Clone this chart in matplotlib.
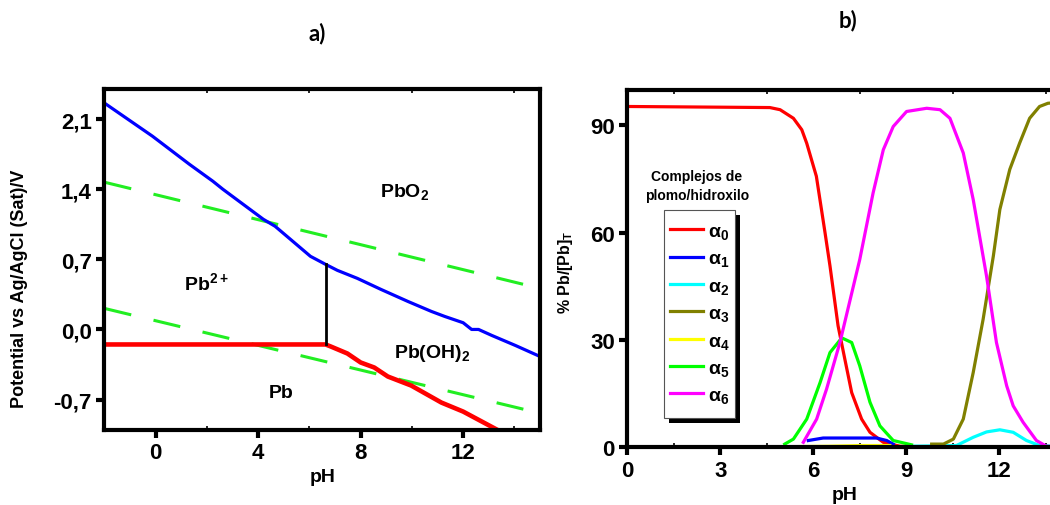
import numpy as np
import matplotlib
matplotlib.use('Agg')
from matplotlib import pyplot as plt
from matplotlib.patches import Rectangle
from matplotlib.transforms import IdentityTransform
from matplotlib.ticker import MultipleLocator, FixedLocator

plt.rcParams['font.family'] = ['Liberation Sans', 'DejaVu Sans']
plt.rcParams['font.weight'] = 'bold'
plt.rcParams['mathtext.default'] = 'regular'

##==============================================================================
## a) Pourbaix diagram of Pb (potential vs Ag/AgCl (Sat))
##==============================================================================
pbo2_ph = [-2.0, -0.13, 1.31, 2.23, 2.62, 4.2, 4.66, 5.12, 6.04, 6.63, 7.09,
           7.87, 8.79, 9.84, 10.76, 11.28, 12.0, 12.33, 12.6, 13.12, 14.04, 15.0]
pbo2_E = [2.26, 1.93, 1.65, 1.48, 1.40, 1.10, 1.03, 0.93, 0.73, 0.65, 0.59,
          0.51, 0.40, 0.28, 0.18, 0.13, 0.067, 0.0, 0.0, -0.06, -0.16, -0.27]

pb_ph = [-2.0, 6.63, 6.83, 7.48, 8.0, 8.53, 9.06, 9.97, 11.15, 12.0, 13.39]
pb_E = [-0.15, -0.15, -0.17, -0.24, -0.33, -0.38, -0.47, -0.56, -0.73, -0.82, -1.01]

# Pb2+ / Pb(OH)2 boundary
hyd_ph = [6.63, 6.63]
hyd_E = [-0.15, 0.65]

# water stability limits
o2_ph = [-2.0, 15.0]
o2_E = [1.47, 0.41]
h2_ph = [-2.0, 14.9]
h2_E = [0.21, -0.83]

pourbaix_ticks = [-0.7, 0.0, 0.7, 1.4, 2.1]
pourbaix_ticklabels = ['-0,7', '0,0', '0,7', '1,4', '2,1']

##==============================================================================
## b) Speciation of lead / hydroxo complexes
##==============================================================================
a0_ph = [0, 4.6, 4.93, 5.36, 5.63, 5.79, 6.1, 6.38, 6.54, 6.8, 7.02, 7.24,
         7.56, 7.83, 8.26, 8.8, 9.5, 14.0]
a0 = [95.3, 95.0, 94.4, 92.0, 88.8, 85.0, 75.8, 60.0, 50.7, 34.0, 24.6, 15.3,
      7.9, 4.2, 1.4, 0.3, 0.1, 0.1]
a1_ph = [5.84, 6.32, 7.0, 8.04, 8.37, 8.58]
a1 = [1.9, 2.6, 2.6, 2.6, 1.9, 0.9]
a2_ph = [9.12, 10.0, 10.62, 11.16, 11.59, 12.02, 12.45, 12.88, 13.3, 14.0]
a2 = [0.3, 0.4, 0.5, 2.8, 4.3, 4.9, 4.2, 1.9, 0.5, 0.2]
a3_ph = [9.82, 10.2, 10.52, 10.84, 11.16, 11.48, 11.81, 12.02, 12.34, 12.66,
         12.98, 13.3, 13.57, 14.0]
a3 = [0.9, 0.9, 2.3, 7.9, 20.9, 35.8, 53.5, 66.5, 77.7, 85.1, 92.0, 95.3,
      96.2, 96.5]
a4_ph = [5.46, 6.5, 7.5, 8.47]
a4 = [0.2, 0.3, 0.5, 0.5]
a5_ph = [5.08, 5.36, 5.79, 6.22, 6.54, 6.92, 7.24, 7.5, 7.83, 8.15, 8.58, 9.17]
a5 = [0.9, 2.3, 7.9, 18.1, 26.5, 30.6, 29.3, 22.8, 12.6, 6.0, 1.9, 0.7]
a6_ph = [5.68, 6.11, 6.43, 6.86, 7.5, 7.93, 8.26, 8.58, 9.01, 9.66, 10.09,
         10.41, 10.84, 11.16, 11.59, 11.91, 12.24, 12.45, 12.77, 13.2, 13.52, 14.0]
a6 = [1.4, 7.9, 16.3, 29.3, 52.5, 71.1, 83.2, 89.7, 93.9, 94.8, 94.4,
      92.0, 82.3, 69.3, 47.9, 29.3, 17.2, 11.6, 7.0, 1.9, 0.3, 0.1]

species = [(a0_ph, a0, '#ff0000'), (a1_ph, a1, '#0000ff'),
           (a2_ph, a2, '#00ffff'), (a3_ph, a3, '#808000'),
           (a4_ph, a4, '#ffff00'), (a5_ph, a5, '#00ff00'),
           (a6_ph, a6, '#ff00ff')]
species_labels = [r'$\alpha_{%d}$' % n for n in range(7)]


def style_axes(ax, tick_size):
    for sp in ax.spines.values():
        sp.set_linewidth(3.0)
    ax.tick_params(which='major', direction='out', length=6, width=3,
                   labelsize=tick_size, pad=3)
    ax.tick_params(which='minor', direction='in', length=3, width=1.2,
                   top=True, bottom=True, left=False)
    ax.tick_params(axis='x', which='major', top=False)
    for lab in ax.get_xticklabels() + ax.get_yticklabels():
        lab.set_fontweight('bold')


fig = plt.figure(figsize=(10.5, 5.06), dpi=100)

## ---- panel a ----
ax1 = fig.add_axes([0.0995, 0.149, 0.4148, 0.673])
ax1.plot(o2_ph, o2_E, color='#22ee22', lw=2.2, dashes=(9, 7.5))
ax1.plot(h2_ph, h2_E, color='#22ee22', lw=2.2, dashes=(9, 7.5))
ax1.plot(pbo2_ph, pbo2_E, color='#0000ff', lw=2.3)
ax1.plot(pb_ph, pb_E, color='#ff0000', lw=3.3)
ax1.plot(hyd_ph, hyd_E, color='black', lw=2.0)

ax1.text(9.7, 1.38, r'PbO$_2$', fontsize=14, fontweight='bold', ha='center', va='center')
ax1.text(2.0, 0.47, r'Pb$^{2+}$', fontsize=14, fontweight='bold', ha='center', va='center')
ax1.text(10.8, -0.23, r'Pb(OH)$_2$', fontsize=14, fontweight='bold', ha='center', va='center')
ax1.text(4.9, -0.63, 'Pb', fontsize=14, fontweight='bold', ha='center', va='center')

ax1.set_xlim(-2, 15)
ax1.set_ylim(-1.0, 2.4)
ax1.xaxis.set_major_locator(MultipleLocator(4))
ax1.xaxis.set_minor_locator(FixedLocator([2, 6, 10, 14]))
ax1.set_yticks(pourbaix_ticks)
ax1.set_yticklabels(pourbaix_ticklabels)
style_axes(ax1, 16)
ax1.set_xlabel('pH', fontsize=14, fontweight='bold')
ax1.xaxis.set_label_coords(0.5, -0.113)
ax1.set_ylabel('Potential vs Ag/AgCl (Sat)/V', fontsize=13, fontweight='bold')
ax1.yaxis.set_label_coords(-0.176, 0.416)

## ---- panel b ----
ax2 = fig.add_axes([0.5974, 0.114, 0.4133, 0.7068])
handles = []
for (ph, val, col), lab in zip(species, species_labels):
    ln, = ax2.plot(ph, val, color=col, lw=2.3, clip_on=False, label=lab)
    handles.append(ln)

ax2.set_xlim(0, 14)
ax2.set_ylim(0, 100)
ax2.xaxis.set_major_locator(MultipleLocator(3))
ax2.xaxis.set_minor_locator(MultipleLocator(1.5))
ax2.yaxis.set_major_locator(MultipleLocator(30))
style_axes(ax2, 16)
ax2.set_xlabel('pH', fontsize=14, fontweight='bold')
ax2.xaxis.set_label_coords(0.5, -0.108)
ax2.set_ylabel(r'% Pb/[Pb]$_T$', fontsize=11.5, fontweight='bold')
ax2.yaxis.set_label_coords(-0.12, 0.493)

leg = ax2.legend(handles=handles, loc='upper left', bbox_to_anchor=(0.085, 0.645),
                 borderaxespad=0, fontsize=14, handlelength=1.7, handletextpad=0.25,
                 labelspacing=0.45, borderpad=0.3, fancybox=False, framealpha=1)
leg.get_frame().set_visible(False)
ax2.text(0.16, 0.733, 'Complejos de\nplomo/hidroxilo', transform=ax2.transAxes,
         fontsize=10, fontweight='bold', ha='center', va='center', linespacing=1.45)

# legend box with extra vertical room and a black drop shadow
fig.canvas.draw()
bb = leg.get_window_extent()
pad = 7
box_x0, box_y0 = bb.x0, bb.y0 - pad
box_w, box_h = bb.width, bb.height + 2 * pad
shadow = Rectangle((box_x0 + 5, box_y0 - 5), box_w, box_h,
                   transform=IdentityTransform(), facecolor='black',
                   edgecolor='none', zorder=4)
frame = Rectangle((box_x0, box_y0), box_w, box_h,
                  transform=IdentityTransform(), facecolor='white',
                  edgecolor='#555555', linewidth=0.8, zorder=4.5)
ax2.add_artist(shadow)
ax2.add_artist(frame)

fig.text(0.302, 0.934, 'a)', fontsize=16, fontweight='bold', ha='center', va='center',
         family=['Lato', 'DejaVu Sans'])
fig.text(0.808, 0.96, 'b)', fontsize=16, fontweight='bold', ha='center', va='center',
         family=['Lato', 'DejaVu Sans'])

plt.savefig('out.png', dpi=100)
